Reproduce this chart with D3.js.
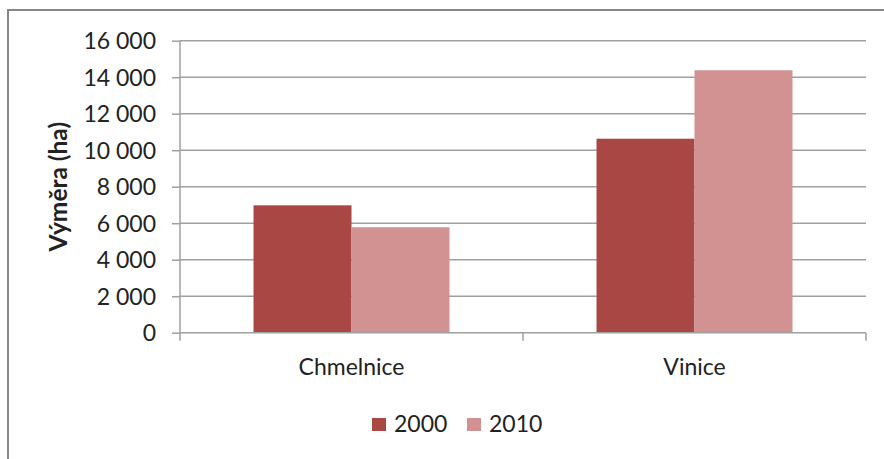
<!DOCTYPE html>
<html>
<head>
<meta charset="utf-8">
<script src="https://cdn.jsdelivr.net/npm/d3@7"></script>
<style>
  html, body { margin: 0; padding: 0; background: #fff; }
  svg { display: block; }
  text { font-family: Lato, "Open Sans", sans-serif; fill: #222; }
</style>
</head>
<body>
<svg id="chart" width="884" height="459"></svg>
<script>
// Land area of hop fields and vineyards (ha)
const categories = ["Chmelnice", "Vinice"];
const years = ["2000", "2010"];
const values2000 = [6980, 10630];
const values2010 = [5780, 14380];
const yTicks = [0, 2000, 4000, 6000, 8000, 10000, 12000, 14000, 16000];
const yTitle = "Výměra (ha)";
const colors = ["#a94745", "#d29291"];

const series = [values2000, values2010];

const svg = d3.select("#chart");
const W = 884, H = 459;
const plot = { left: 180, right: 866, top: 40.7, bottom: 332.7 };

// Outer chart frame
svg.append("rect")
  .attr("x", 8).attr("y", 10)
  .attr("width", W).attr("height", H)
  .attr("fill", "none").attr("stroke", "#878787").attr("stroke-width", 2);

const y = d3.scaleLinear().domain([0, 16000]).range([plot.bottom, plot.top]);
const x0 = d3.scaleBand().domain(categories).range([plot.left, plot.right])
  .paddingInner(0.4286).paddingOuter(0.2143);
const x1 = d3.scaleBand().domain(years).range([0, x0.bandwidth()]);

const fmt = v => d3.format(",")(v).replace(/,/g, " ");

// Horizontal gridlines and value axis
const yAxis = d3.axisLeft(y).tickValues(yTicks).tickFormat(fmt)
  .tickSize(8).tickPadding(16);
const gy = svg.append("g").attr("transform", `translate(${plot.left},0)`).call(yAxis);
gy.select(".domain").attr("stroke", "#a0a0a0").attr("stroke-width", 1.5)
  .attr("d", `M0,${plot.top}V${plot.bottom}`);
gy.selectAll(".tick line").attr("stroke", "#a0a0a0").attr("stroke-width", 1.5);
gy.selectAll(".tick text").style("font-size", "23px").attr("fill", "#222").attr("dy", "0.36em");

svg.append("g").selectAll("line").data(yTicks.filter(t => t > 0)).join("line")
  .attr("x1", plot.left).attr("x2", plot.right)
  .attr("y1", d => y(d)).attr("y2", d => y(d))
  .attr("stroke", "#a0a0a0").attr("stroke-width", 1.5);

// Bars
const groups = svg.append("g").selectAll("g").data(categories).join("g")
  .attr("transform", d => `translate(${x0(d)},0)`);
groups.selectAll("rect")
  .data((c, i) => years.map((yr, j) => ({ yr, v: series[j][i], j })))
  .join("rect")
  .attr("x", d => x1(d.yr))
  .attr("width", x1.bandwidth())
  .attr("y", d => y(d.v))
  .attr("height", d => y(0) - y(d.v))
  .attr("fill", d => colors[d.j]);

// Category axis
const step = x0.step();
const boundaries = d3.range(categories.length + 1).map(i => plot.left + i * step);
svg.append("line")
  .attr("x1", plot.left).attr("x2", plot.right)
  .attr("y1", plot.bottom).attr("y2", plot.bottom)
  .attr("stroke", "#a0a0a0").attr("stroke-width", 1.5);
svg.append("g").selectAll("line").data(boundaries).join("line")
  .attr("x1", d => d).attr("x2", d => d)
  .attr("y1", plot.bottom).attr("y2", plot.bottom + 8)
  .attr("stroke", "#a0a0a0").attr("stroke-width", 1.5);
svg.append("g").selectAll("text").data(categories).join("text")
  .attr("x", d => x0(d) + x0.bandwidth() / 2)
  .attr("y", 375)
  .attr("text-anchor", "middle")
  .style("font-size", "23px")
  .text(d => d);

// Value axis title
svg.append("text")
  .attr("transform", `translate(67,${(plot.top + plot.bottom) / 2}) rotate(-90)`)
  .attr("text-anchor", "middle")
  .style("font-size", "24.5px").style("font-weight", "bold")
  .text(yTitle);

// Legend
const legend = svg.append("g");
const legendX = [372, 467];
years.forEach((yr, j) => {
  legend.append("rect")
    .attr("x", legendX[j]).attr("y", 418)
    .attr("width", 14).attr("height", 13)
    .attr("fill", colors[j]);
  legend.append("text")
    .attr("x", legendX[j] + 22).attr("y", 432)
    .style("font-size", "23px")
    .text(yr);
});
</script>
</body>
</html>
